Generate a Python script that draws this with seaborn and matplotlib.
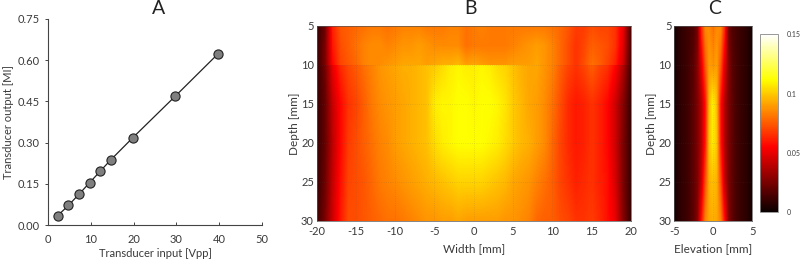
import numpy as np
import matplotlib
matplotlib.use("Agg")
import matplotlib.pyplot as plt
import pandas as pd
import seaborn as sns

# Panel A: transducer calibration
input_vpp = [2.2, 4.7, 7.2, 9.7, 12.2, 14.6, 19.8, 29.7, 39.8]
output_mi = [0.035, 0.072, 0.113, 0.155, 0.197, 0.237, 0.318, 0.468, 0.623]

# Panel B: field map, 1e-3 MI, columns -20..20 mm every 1 mm
width_mm = list(range(-20, 21))
depth_upper = [5, 7.5, 10]
field_upper = [
    [10, 22, 62, 74, 76, 78, 80, 82, 82, 80, 82, 84, 84, 84, 82, 82, 82, 84, 84, 80, 82, 84, 82, 82, 82, 82, 82, 82, 82, 82, 80, 78, 74, 68, 68, 72, 70, 70, 66, 50, 14],
    [10, 25, 60, 72, 76, 80, 84, 86, 86, 84, 86, 88, 88, 90, 88, 86, 86, 86, 86, 80, 82, 82, 82, 82, 82, 84, 86, 88, 90, 88, 84, 78, 72, 66, 70, 76, 74, 72, 66, 48, 14],
    [10, 25, 56, 70, 74, 78, 84, 86, 86, 88, 90, 92, 92, 92, 90, 92, 94, 94, 96, 90, 92, 90, 88, 88, 88, 90, 90, 90, 92, 88, 84, 78, 72, 66, 72, 80, 76, 70, 62, 44, 12],
]
depth_lower = [10, 15, 20, 25, 30]
field_lower = [
    [10, 23, 50, 64, 71, 75, 80, 84, 88, 90, 92, 94, 94, 96, 98, 100, 104, 108, 110, 108, 108, 110, 108, 104, 102, 98, 94, 92, 92, 88, 84, 76, 70, 66, 70, 76, 70, 66, 56, 38, 12],
    [10, 20, 42, 56, 66, 70, 76, 82, 86, 88, 90, 92, 94, 96, 98, 108, 110, 110, 112, 112, 110, 112, 112, 110, 106, 100, 96, 92, 90, 86, 80, 72, 64, 60, 62, 66, 62, 56, 44, 28, 10],
    [10, 20, 40, 56, 68, 72, 76, 80, 84, 86, 90, 92, 94, 96, 98, 104, 108, 110, 112, 112, 112, 112, 110, 108, 104, 100, 96, 94, 90, 86, 78, 70, 64, 60, 62, 66, 62, 56, 44, 26, 10],
    [10, 22, 42, 58, 70, 72, 74, 78, 82, 84, 86, 88, 90, 92, 94, 96, 98, 100, 102, 102, 102, 102, 100, 98, 96, 92, 90, 88, 84, 80, 76, 70, 66, 62, 64, 66, 62, 58, 46, 26, 10],
    [12, 25, 44, 60, 72, 72, 74, 76, 78, 80, 80, 82, 84, 86, 88, 88, 90, 90, 92, 90, 90, 90, 90, 90, 88, 88, 86, 84, 78, 76, 76, 72, 70, 66, 66, 68, 64, 58, 50, 28, 10],
]

# Panel C: elevation profile, 1e-3 MI, columns -5..5 mm every 0.5 mm
elevation_mm = [x / 2 for x in range(-10, 11)]
depth_c = [5, 10, 15, 20, 25, 30]
field_c = [
    [3, 6, 9, 11, 13, 16, 24, 64, 86, 86, 80, 86, 86, 64, 24, 16, 13, 11, 9, 6, 3],
    [3, 6, 9, 11, 14, 18, 28, 48, 74, 90, 88, 90, 74, 48, 28, 18, 14, 11, 9, 6, 3],
    [3, 6, 9, 11, 14, 19, 26, 38, 58, 96, 110, 96, 58, 38, 26, 19, 14, 11, 9, 6, 3],
    [3, 6, 9, 11, 14, 19, 26, 38, 60, 98, 108, 98, 60, 38, 26, 19, 14, 11, 9, 6, 3],
    [3, 6, 9, 11, 14, 19, 26, 42, 72, 94, 98, 94, 72, 42, 26, 19, 14, 11, 9, 6, 3],
    [3, 6, 9, 11, 14, 19, 28, 58, 84, 92, 94, 92, 84, 58, 28, 19, 14, 11, 9, 6, 3],
]

depth_ticks = [5, 10, 15, 20, 25, 30]
width_ticks = [-20, -15, -10, -5, 0, 5, 10, 15, 20]
elevation_ticks = [-5, 0, 5]
cbar_ticks = [0, 0.05, 0.1, 0.15]
cbar_labels = ["0", "0.05", "0.1", "0.15"]

sns.set_style("white")
plt.rcParams["font.family"] = ["Lato", "DejaVu Sans"]
plt.rcParams["axes.unicode_minus"] = False
TEXT = "#3a3a3a"
W, H = 800, 262


def axes_px(fig, left, top, right, bottom):
    return fig.add_axes([left / W, 1 - bottom / H, (right - left) / W, (bottom - top) / H])


def show_map(ax, values, xs, ys, clip=None):
    # pixel centres sit on the read coordinates
    dx = (xs[1] - xs[0]) / 2
    dy = (ys[1] - ys[0]) / 2
    im = ax.imshow(np.array(values) / 1000, cmap="hot", vmin=0, vmax=0.15, aspect="auto",
                   interpolation="bilinear", origin="upper",
                   extent=[xs[0] - dx, xs[-1] + dx, ys[-1] + dy, ys[0] - dy])
    if clip is not None:
        im.set_clip_path(plt.Rectangle((xs[0], clip[0]), xs[-1] - xs[0], clip[1] - clip[0],
                                       transform=ax.transData))
    return im


def style_map(ax, xticks, xlabel):
    ax.set_xticks(xticks)
    ax.set_yticks(depth_ticks)
    ax.set_xlim(xticks[0], xticks[-1])
    ax.set_ylim(30, 5)
    ax.grid(True, color="#555555", alpha=0.18, lw=0.6, ls=":")
    ax.set_axisbelow(False)
    ax.tick_params(length=0, labelsize=8, labelcolor=TEXT, pad=4)
    ax.tick_params(axis="y", pad=2)
    ax.set_xlabel(xlabel, fontsize=8.5, color=TEXT, labelpad=4)
    ax.set_ylabel("Depth [mm]", fontsize=8.5, color=TEXT, labelpad=1)
    for spine in ax.spines.values():
        spine.set_edgecolor("#555555")
        spine.set_linewidth(0.5)


fig = plt.figure(figsize=(8, 2.62), dpi=100)

# A
ax_a = axes_px(fig, 48.3, 18.7, 261.7, 225.3)
df = pd.DataFrame({"input": input_vpp, "output": output_mi})
sns.lineplot(data=df, x="input", y="output", color="#222222", lw=0.9, ax=ax_a,
             marker="o", markersize=6.6, markerfacecolor="#7f7f7f",
             markeredgecolor="#222222", markeredgewidth=0.8, clip_on=False)
ax_a.set_xlim(0, 50)
ax_a.set_ylim(0, 0.75)
ax_a.set_xticks([0, 10, 20, 30, 40, 50])
ax_a.set_yticks([0, 0.15, 0.3, 0.45, 0.6, 0.75])
ax_a.set_yticklabels(["0.00", "0.15", "0.30", "0.45", "0.60", "0.75"])
ax_a.tick_params(length=2.5, width=0.7, color="#444444", labelsize=8, labelcolor=TEXT, pad=4,
                 left=True, bottom=True)
ax_a.tick_params(axis="x", direction="in", pad=6)
ax_a.set_xlabel("Transducer input [Vpp]", fontsize=8, color=TEXT, labelpad=2.5)
ax_a.set_ylabel("Transducer output [MI]", fontsize=8, color=TEXT, labelpad=2)
sns.despine(ax=ax_a)
for side in ("left", "bottom"):
    ax_a.spines[side].set_color("#444444")
    ax_a.spines[side].set_linewidth(0.8)
fig.text(159 / W, 1 - 8 / H, "A", fontsize=14, color="#222222", ha="center", va="center")

# B, upper and lower blocks are separate scans so the step at 10 mm stays sharp
ax_b = axes_px(fig, 316.7, 26, 630.7, 220.7)
show_map(ax_b, field_upper, width_mm, depth_upper, clip=(5, 10))
show_map(ax_b, field_lower, width_mm, depth_lower, clip=(10, 30))
style_map(ax_b, width_ticks, "Width [mm]")
fig.text(471 / W, 1 - 8 / H, "B", fontsize=14, color="#222222", ha="center", va="center")

# C
ax_c = axes_px(fig, 674.3, 26, 752.3, 220.7)
show_map(ax_c, field_c, elevation_mm, depth_c)
style_map(ax_c, elevation_ticks, "Elevation [mm]")
fig.text(715 / W, 1 - 8 / H, "C", fontsize=14, color="#222222", ha="center", va="center")

# colour bar
ax_cb = axes_px(fig, 760, 34.3, 778, 212)
sm = plt.cm.ScalarMappable(norm=plt.Normalize(0, 0.15), cmap="hot")
cb = fig.colorbar(sm, cax=ax_cb)
cb.set_ticks(cbar_ticks)
cb.set_ticklabels(cbar_labels)
cb.ax.tick_params(length=0, labelsize=5, labelcolor=TEXT, pad=6.5)
cb.outline.set_edgecolor("#888888")
cb.outline.set_linewidth(0.6)

fig.savefig("out.png", dpi=100)
